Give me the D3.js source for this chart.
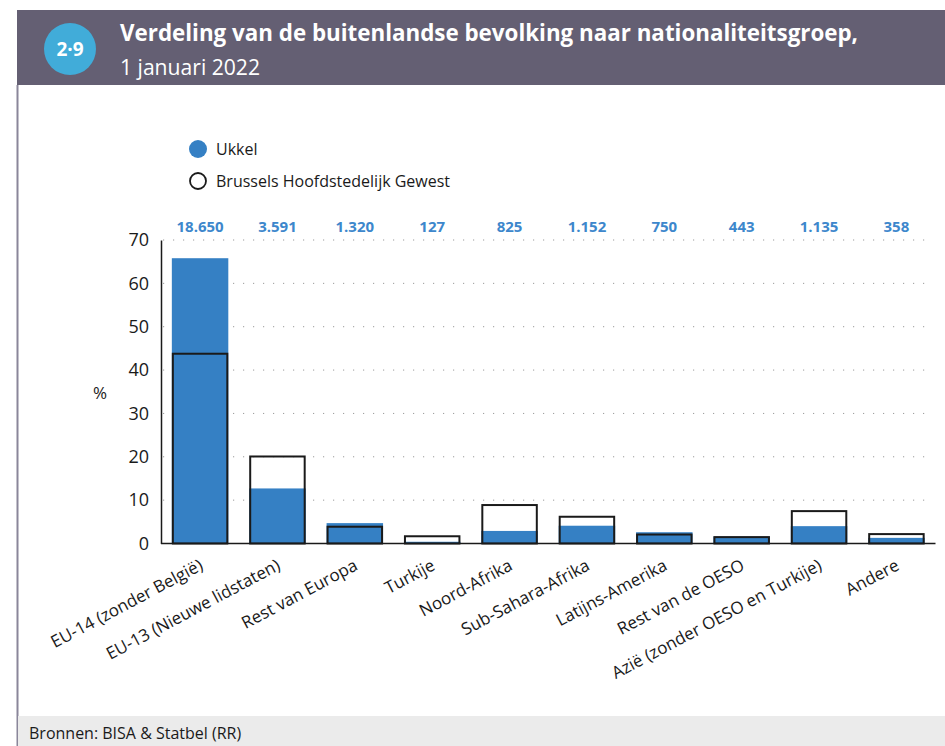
<!DOCTYPE html>
<html>
<head>
<meta charset="utf-8">
<script src="https://cdn.jsdelivr.net/npm/d3@7"></script>
<style>
  body { margin: 0; background: #fff; }
  svg { display: block; font-family: "Open Sans", "Noto Sans", sans-serif; }
</style>
</head>
<body>
<div id="chart"></div>
<script>
const categories = ["EU-14 (zonder België)", "EU-13 (Nieuwe lidstaten)", "Rest van Europa", "Turkije",
  "Noord-Afrika", "Sub-Sahara-Afrika", "Latijns-Amerika", "Rest van de OESO",
  "Azië (zonder OESO en Turkije)", "Andere"];
const ukkel = [65.8, 12.7, 4.7, 0.4, 2.9, 4.1, 2.6, 1.6, 4.0, 1.3];
const brussel = [44.0, 20.3, 4.1, 1.9, 9.1, 6.4, 2.3, 1.7, 7.7, 2.4];
const counts = ["18.650", "3.591", "1.320", "127", "825", "1.152", "750", "443", "1.135", "358"];
const yTicks = [0, 10, 20, 30, 40, 50, 60, 70];

const W = 945, H = 746;
const blue = "#3580c4";
const dark = "#1a1a1a";

const svg = d3.select("#chart").append("svg")
    .attr("width", W)
    .attr("height", H);

// header band
svg.append("rect").attr("x", 17).attr("y", 10).attr("width", W - 17).attr("height", 75).attr("fill", "#645f73");
svg.append("circle").attr("cx", 70).attr("cy", 49).attr("r", 26).attr("fill", "#41acd9");
svg.append("text").attr("x", 70).attr("y", 56).attr("text-anchor", "middle")
    .attr("fill", "white").style("font-weight", "bold").style("font-size", "19px").text("2·9");
svg.append("text").attr("x", 120).attr("y", 41).attr("fill", "white")
    .style("font-weight", "bold").style("font-size", "24px")
    .attr("textLength", 738).attr("lengthAdjust", "spacingAndGlyphs")
    .text("Verdeling van de buitenlandse bevolking naar nationaliteitsgroep,");
svg.append("text").attr("x", 120).attr("y", 75).attr("fill", "white")
    .style("font-size", "22px").attr("textLength", 140).attr("lengthAdjust", "spacingAndGlyphs")
    .text("1 januari 2022");

// left border + footer
svg.append("line").attr("x1", 17.5).attr("x2", 17.5).attr("y1", 85).attr("y2", H)
    .attr("stroke", "#8a869a").attr("stroke-width", 2);
svg.append("rect").attr("x", 18).attr("y", 716).attr("width", W - 18).attr("height", H - 716).attr("fill", "#ebebeb");
svg.append("text").attr("x", 29).attr("y", 739).attr("fill", dark).style("font-size", "16px")
    .text("Bronnen: BISA & Statbel (RR)");

// scales
const x = d3.scaleBand().domain(categories).range([161, 935.5]).paddingInner(0.27).paddingOuter(0.14);
const y = d3.scaleLinear().domain([0, 70]).range([543.5, 240]);

// gridlines
svg.append("g").selectAll("line").data(yTicks.filter(d => d > 0)).join("line")
    .attr("x1", 163).attr("x2", 932)
    .attr("y1", d => y(d)).attr("y2", d => y(d))
    .attr("stroke", "#9a9a9a").attr("stroke-width", 1).attr("stroke-dasharray", "1.2,8.8");

// y axis
const yAxis = svg.append("g").attr("transform", "translate(161,0)")
    .call(d3.axisLeft(y).tickValues(yTicks).tickSize(0).tickPadding(12));
yAxis.select(".domain").attr("stroke", dark).attr("stroke-width", 1.5);
yAxis.selectAll("text").style("font-size", "18px").attr("fill", dark)
    .style("font-family", "'Open Sans', sans-serif");
svg.append("text").attr("x", 100).attr("y", 399).attr("text-anchor", "middle")
    .attr("fill", dark).style("font-size", "17px").text("%");

// bars
svg.append("g").selectAll("rect").data(categories).join("rect")
    .attr("x", d => x(d)).attr("width", x.bandwidth())
    .attr("y", (d, i) => y(ukkel[i])).attr("height", (d, i) => y(0) - y(ukkel[i]))
    .attr("fill", blue);
svg.append("g").selectAll("rect").data(categories).join("rect")
    .attr("x", d => x(d) + 1).attr("width", x.bandwidth() - 2)
    .attr("y", (d, i) => y(brussel[i]) + 1).attr("height", (d, i) => y(0) - y(brussel[i]) - 1)
    .attr("fill", "none").attr("stroke", dark).attr("stroke-width", 2);

// baseline
svg.append("line").attr("x1", 161).attr("x2", 935.5).attr("y1", y(0)).attr("y2", y(0))
    .attr("stroke", dark).attr("stroke-width", 1.5);

// counts above
svg.append("g").selectAll("text").data(categories).join("text")
    .attr("x", d => x(d) + x.bandwidth() / 2).attr("y", 232)
    .attr("text-anchor", "middle").attr("fill", "#3d87cc")
    .style("font-family", "'Liberation Sans Narrow', 'Open Sans', sans-serif")
    .style("font-weight", "bold").style("font-size", "15px")
    .text((d, i) => counts[i]);

// x labels
svg.append("g").selectAll("text").data(categories).join("text")
    .attr("transform", d => `translate(${x(d) + x.bandwidth() / 2 + 4},${569}) rotate(-28)`)
    .attr("text-anchor", "end").attr("fill", dark).style("font-size", "17px")
    .text(d => d);

// legend
const legend = svg.append("g");
legend.append("circle").attr("cx", 198).attr("cy", 149).attr("r", 9).attr("fill", blue);
legend.append("text").attr("x", 216).attr("y", 155).attr("fill", dark).style("font-size", "16px").text("Ukkel");
legend.append("circle").attr("cx", 198).attr("cy", 181).attr("r", 8).attr("fill", "none")
    .attr("stroke", dark).attr("stroke-width", 1.8);
legend.append("text").attr("x", 216).attr("y", 187).attr("fill", dark).style("font-size", "16px")
    .text("Brussels Hoofdstedelijk Gewest");
</script>
</body>
</html>
